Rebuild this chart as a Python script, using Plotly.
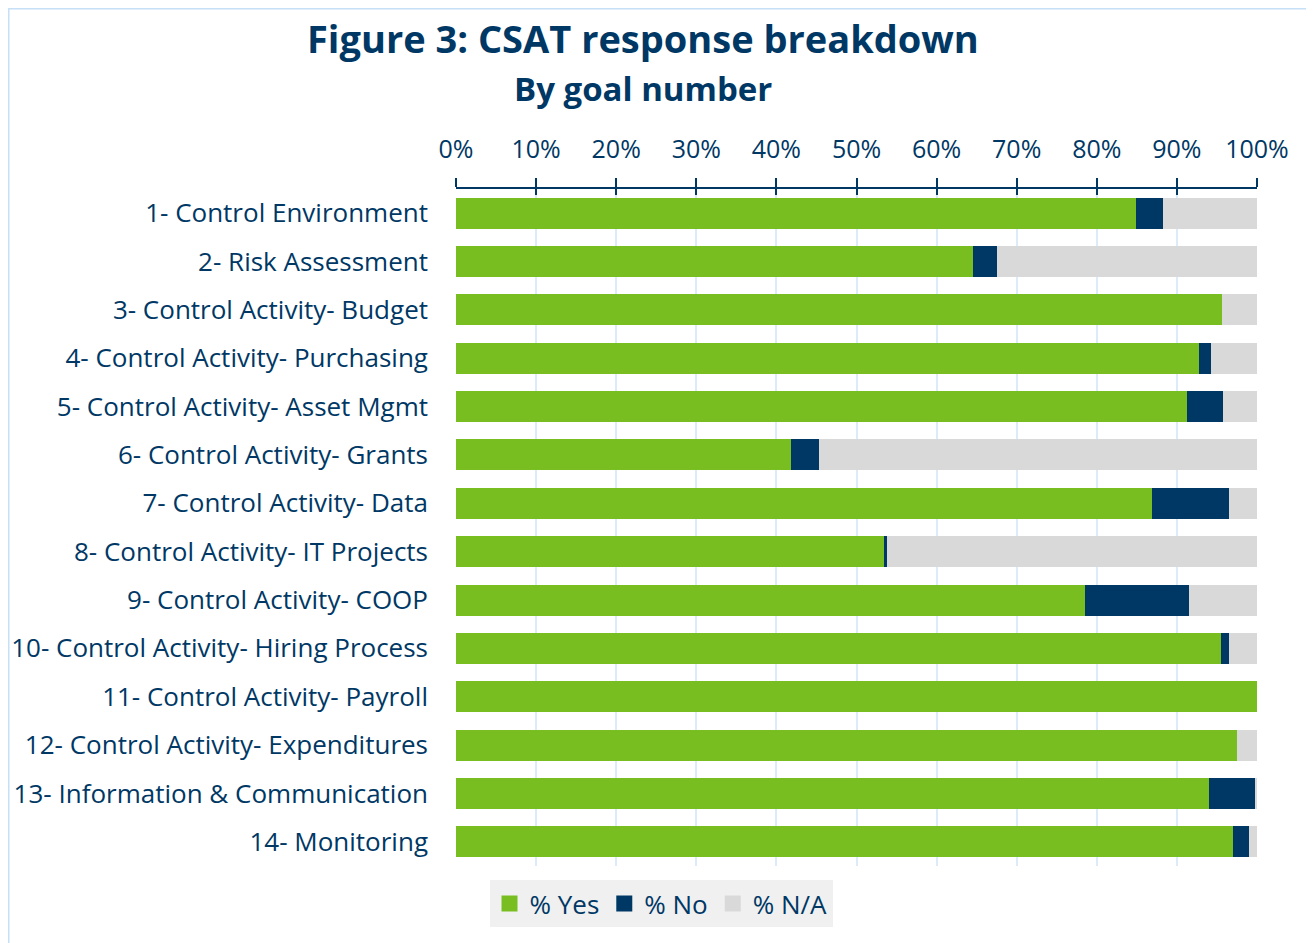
import plotly.graph_objects as go

categories = [
    "1- Control Environment",
    "2- Risk Assessment",
    "3- Control Activity- Budget",
    "4- Control Activity- Purchasing",
    "5- Control Activity- Asset Mgmt",
    "6- Control Activity- Grants",
    "7- Control Activity- Data",
    "8- Control Activity- IT Projects",
    "9- Control Activity- COOP",
    "10- Control Activity- Hiring Process",
    "11- Control Activity- Payroll",
    "12- Control Activity- Expenditures",
    "13- Information & Communication",
    "14- Monitoring",
]
pct_yes = [84.9, 64.5, 95.6, 92.7, 91.3, 41.8, 86.9, 53.4, 78.5, 95.5, 100.0, 97.5, 94.0, 97.0]
pct_no = [3.4, 3.0, 0.0, 1.6, 4.5, 3.5, 9.6, 0.4, 13.0, 1.0, 0.0, 0.0, 5.75, 2.0]
pct_na = [11.7, 32.5, 4.4, 5.7, 4.2, 54.7, 3.5, 46.2, 8.5, 3.5, 0.0, 2.5, 0.25, 1.0]
series_names = ["% Yes", "% No", "% N/A"]
tick_vals = [0, 10, 20, 30, 40, 50, 60, 70, 80, 90, 100]
tick_text = [f"{v}%" for v in tick_vals]

colors = ["#78BE20", "#003865", "#D9D9D9"]
text_color = "#003865"
font_family = "Open Sans, Lato, sans-serif"

OFF = 8  # page body margin
W, H = 1314 - OFF, 943 - OFF
L, T = 456 - OFF, 189 - OFF
R = W - (1257 - OFF)
B = H - (866 - OFF)
pw, ph = W - L - R, H - T - B

def px_x(p):
    return (p - OFF - L) / pw

def px_y(p):
    return (H - B - (p - OFF)) / ph

fig = go.Figure()
for name, vals, col in zip(series_names, [pct_yes, pct_no, pct_na], colors):
    fig.add_trace(go.Bar(
        y=categories, x=vals, name=name, orientation="h",
        marker=dict(color=col, line=dict(width=0)), showlegend=False,
    ))
for name, col in zip(series_names, colors):
    fig.add_trace(go.Scatter(
        x=[None], y=[None], name=name, mode="markers",
        marker=dict(symbol="square", size=17, color=col), showlegend=True,
    ))

fig.update_layout(
    width=W, height=H,
    margin=dict(l=L, r=R, t=T, b=B, autoexpand=False),
    paper_bgcolor="white", plot_bgcolor="white",
    barmode="stack", bargap=0.36,
    font=dict(family=font_family, color=text_color, size=25),
    showlegend=True,
    legend=dict(
        orientation="h", x=px_x(661), xanchor="center", y=px_y(880), yanchor="top",
        bgcolor="#F0F0F0", font=dict(size=26, color=text_color),
        itemwidth=30, traceorder="normal", tracegroupgap=0,
    ),
    xaxis=dict(
        range=[0, 100], side="top", tickvals=tick_vals, ticktext=tick_text,
        showgrid=True, gridcolor="#DCEBFA", gridwidth=2,
        showline=True, linecolor=text_color, linewidth=2,
        ticks="outside", ticklen=9, tickwidth=2, tickcolor=text_color,
        tickfont=dict(size=25, color=text_color), zeroline=False,
        ticklabelstandoff=10, fixedrange=True,
    ),
    xaxis2=dict(
        range=[0, 100], side="top", overlaying="x", tickvals=tick_vals,
        showticklabels=False, showgrid=False, ticks="inside", ticklen=6,
        tickwidth=2, tickcolor=text_color, showline=False, zeroline=False,
    ),
    yaxis=dict(
        range=[len(categories) - 0.5, -0.5], showgrid=False, ticks="",
        tickfont=dict(size=26, color=text_color), showline=False, zeroline=False,
        ticklabelstandoff=27,
    ),
    annotations=[
        dict(text="<b>Figure 3: CSAT response breakdown</b>", xref="paper", yref="paper",
             x=px_x(642.5), y=px_y(38), xanchor="center", yanchor="middle", showarrow=False,
             font=dict(size=38, color=text_color, family=font_family)),
        dict(text="<b>By goal number</b>", xref="paper", yref="paper",
             x=px_x(642.5), y=px_y(88), xanchor="center", yanchor="middle", showarrow=False,
             font=dict(size=33, color=text_color, family=font_family)),
    ],
    shapes=[
        dict(type="rect", xref="paper", yref="paper",
             x0=px_x(8.5), x1=px_x(1312), y0=px_y(960), y1=px_y(8.5),
             line=dict(color="#C6E0F7", width=2), layer="below"),
    ],
)
fig.add_trace(go.Scatter(x=[0], y=[categories[0]], xaxis="x2", mode="markers",
                         marker=dict(opacity=0), showlegend=False, hoverinfo="skip"))

fig.write_html("out.html")
